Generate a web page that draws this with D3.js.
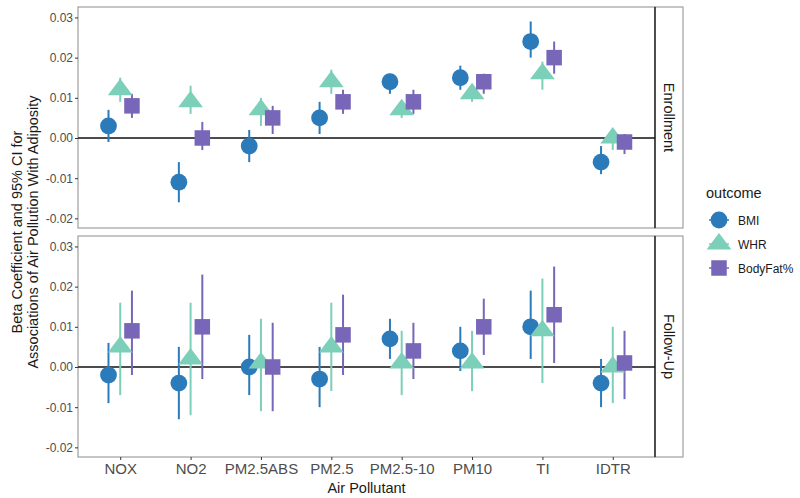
<!DOCTYPE html>
<html><head><meta charset="utf-8">
<script src="https://cdn.jsdelivr.net/npm/d3@7"></script>
<style>body{margin:0;background:#fff}svg{font-family:"Liberation Sans",Arial,sans-serif}</style>
</head><body><svg id="c" width="800" height="498"></svg>
<script>
const pollutants = ["NOX","NO2","PM2.5ABS","PM2.5","PM2.5-10","PM10","TI","IDTR"];
const outcomes = ["BMI","WHR","BodyFat%"];
const panels = ["Enrollment","Follow-Up"];
const yTicks = [-0.02,-0.01,0,0.01,0.02,0.03];
const yTickLabels = ["-0.02","-0.01","0.00","0.01","0.02","0.03"];
// Enrollment: [estimate, low, high] per pollutant
const enrollBMI     = [[0.003,-0.001,0.007],[-0.011,-0.016,-0.006],[-0.002,-0.006,0.002],[0.005,0.001,0.009],[0.014,0.011,0.016],[0.015,0.012,0.018],[0.024,0.020,0.029],[-0.006,-0.009,-0.002]];
const enrollWHR     = [[0.012,0.009,0.015],[0.009,0.006,0.013],[0.007,0.003,0.010],[0.014,0.011,0.017],[0.007,0.005,0.009],[0.011,0.009,0.013],[0.016,0.012,0.019],[0.000,-0.003,0.002]];
const enrollBodyFat = [[0.008,0.005,0.011],[0.000,-0.003,0.004],[0.005,0.001,0.008],[0.009,0.006,0.012],[0.009,0.006,0.012],[0.014,0.011,0.016],[0.020,0.016,0.024],[-0.001,-0.004,0.001]];
// Follow-Up
const followBMI     = [[-0.002,-0.009,0.006],[-0.004,-0.013,0.005],[0.000,-0.007,0.008],[-0.003,-0.010,0.005],[0.007,0.002,0.012],[0.004,-0.001,0.010],[0.010,0.002,0.019],[-0.004,-0.010,0.002]];
const followWHR     = [[0.005,-0.007,0.016],[0.002,-0.012,0.016],[0.001,-0.011,0.012],[0.005,-0.006,0.016],[0.001,-0.007,0.009],[0.001,-0.006,0.009],[0.009,-0.004,0.022],[0.000,-0.009,0.010]];
const followBodyFat = [[0.009,-0.002,0.019],[0.010,-0.003,0.023],[0.000,-0.011,0.011],[0.008,-0.002,0.018],[0.004,-0.003,0.011],[0.010,0.003,0.017],[0.013,0.001,0.025],[0.001,-0.008,0.009]];

const colors = {"BMI":"#2b7bba","WHR":"#7ccfb8","BodyFat%":"#7866b8"};
const seriesByPanel = {
  "Enrollment": {"BMI":enrollBMI,"WHR":enrollWHR,"BodyFat%":enrollBodyFat},
  "Follow-Up": {"BMI":followBMI,"WHR":followWHR,"BodyFat%":followBodyFat}
};

const svg = d3.select("#c");
const L = 78, R = 655, stripW = 28;
const panelBox = [{top:7,bottom:228},{top:236,bottom:457}];
const x = d3.scalePoint().domain(pollutants).range([L,R]).padding(0.6);
const step = x.step();
const dodge = {"BMI":-step/6,"WHR":0,"BodyFat%":step/6};

function drawShape(g, type, cx, cy, col){
  if(type==="BMI"){
    g.append("circle").attr("cx",cx).attr("cy",cy).attr("r",8.4).attr("fill",col);
  } else if(type==="WHR"){
    const r=11;
    g.append("path").attr("d",d3.line()([[cx,cy-r],[cx+r*0.866*1.3,cy+r/2],[cx-r*0.866*1.3,cy+r/2]])+"Z").attr("fill",col);
  } else {
    const s=15.5;
    g.append("rect").attr("x",cx-s/2).attr("y",cy-s/2).attr("width",s).attr("height",s).attr("fill",col);
  }
}

panels.forEach((p,i)=>{
  const b = panelBox[i];
  const y = d3.scaleLinear().domain([-0.0224,0.0326]).range([b.bottom,b.top]);
  const g = svg.append("g");
  g.append("rect").attr("x",L).attr("y",b.top).attr("width",R-L).attr("height",b.bottom-b.top)
    .attr("fill","#fff").attr("stroke","#8c8c8c").attr("stroke-width",1);
  // strip
  g.append("rect").attr("x",R).attr("y",b.top).attr("width",stripW).attr("height",b.bottom-b.top)
    .attr("fill","#fff").attr("stroke","#8c8c8c").attr("stroke-width",1);
  g.append("line").attr("x1",R).attr("x2",R).attr("y1",b.top).attr("y2",b.bottom).attr("stroke","#333").attr("stroke-width",1.6);
  g.append("text").attr("transform",`translate(${R+stripW/2-5},${(b.top+b.bottom)/2}) rotate(90)`)
    .attr("text-anchor","middle").attr("font-size",14.5).attr("fill","#1a1a1a").text(p);
  // y axis
  const ya = g.append("g").attr("transform",`translate(${L},0)`)
    .call(d3.axisLeft(y).tickValues(yTicks).tickFormat((d,k)=>yTickLabels[k]).tickSize(3).tickPadding(2));
  ya.select(".domain").remove();
  ya.selectAll("line").attr("stroke","#333");
  ya.selectAll("text").attr("font-size",12).attr("fill","#4d4d4d").attr("font-family","Liberation Sans, Arial, sans-serif");
  // zero line
  g.append("line").attr("x1",L).attr("x2",R).attr("y1",y(0)).attr("y2",y(0)).attr("stroke","#111").attr("stroke-width",1.3);
  // pointranges
  outcomes.forEach(o=>{
    const data = seriesByPanel[p][o];
    data.forEach((d,k)=>{
      const cx = x(pollutants[k])+dodge[o];
      g.append("line").attr("x1",cx).attr("x2",cx).attr("y1",y(d[1])).attr("y2",y(d[2]))
        .attr("stroke",colors[o]).attr("stroke-width",2);
    });
  });
  outcomes.forEach(o=>{
    const data = seriesByPanel[p][o];
    data.forEach((d,k)=>{
      drawShape(g,o,x(pollutants[k])+dodge[o],y(d[0]),colors[o]);
    });
  });
  if(i===1){
    const xa = g.append("g").attr("transform",`translate(0,${b.bottom})`)
      .call(d3.axisBottom(x).tickSize(3).tickPadding(3));
    xa.select(".domain").remove();
    xa.selectAll("line").attr("stroke","#333");
    xa.selectAll("text").attr("font-size",15).attr("fill","#4d4d4d").attr("font-family","Liberation Sans, Arial, sans-serif");
  }
});

// axis titles
svg.append("text").attr("x",(L+R)/2).attr("y",493).attr("text-anchor","middle").attr("font-size",14.5).attr("fill","#1a1a1a").text("Air Pollutant");
const yt = svg.append("text").attr("transform",`translate(0,${(7+457)/2}) rotate(-90)`).attr("text-anchor","middle").attr("font-size",14.5).attr("fill","#1a1a1a");
yt.append("tspan").attr("x",0).attr("y",22).text("Beta Coefficient and 95% CI for");
yt.append("tspan").attr("x",0).attr("y",38).text("Associations of Air Pollution With Adiposity");

// legend
const lg = svg.append("g");
lg.append("text").attr("x",706).attr("y",198).attr("font-size",14.5).attr("fill","#1a1a1a").text("outcome");
outcomes.forEach((o,k)=>{
  const cy = 220 + k*24;
  const cx = 719;
  lg.append("line").attr("x1",cx-10).attr("x2",cx+10).attr("y1",cy).attr("y2",cy).attr("stroke",colors[o]).attr("stroke-width",1.5);
  drawShape(lg,o,cx,cy,colors[o]);
  lg.append("text").attr("x",738).attr("y",cy+4.5).attr("font-size",12).attr("fill","#1a1a1a").text(o);
});
</script></body></html>
